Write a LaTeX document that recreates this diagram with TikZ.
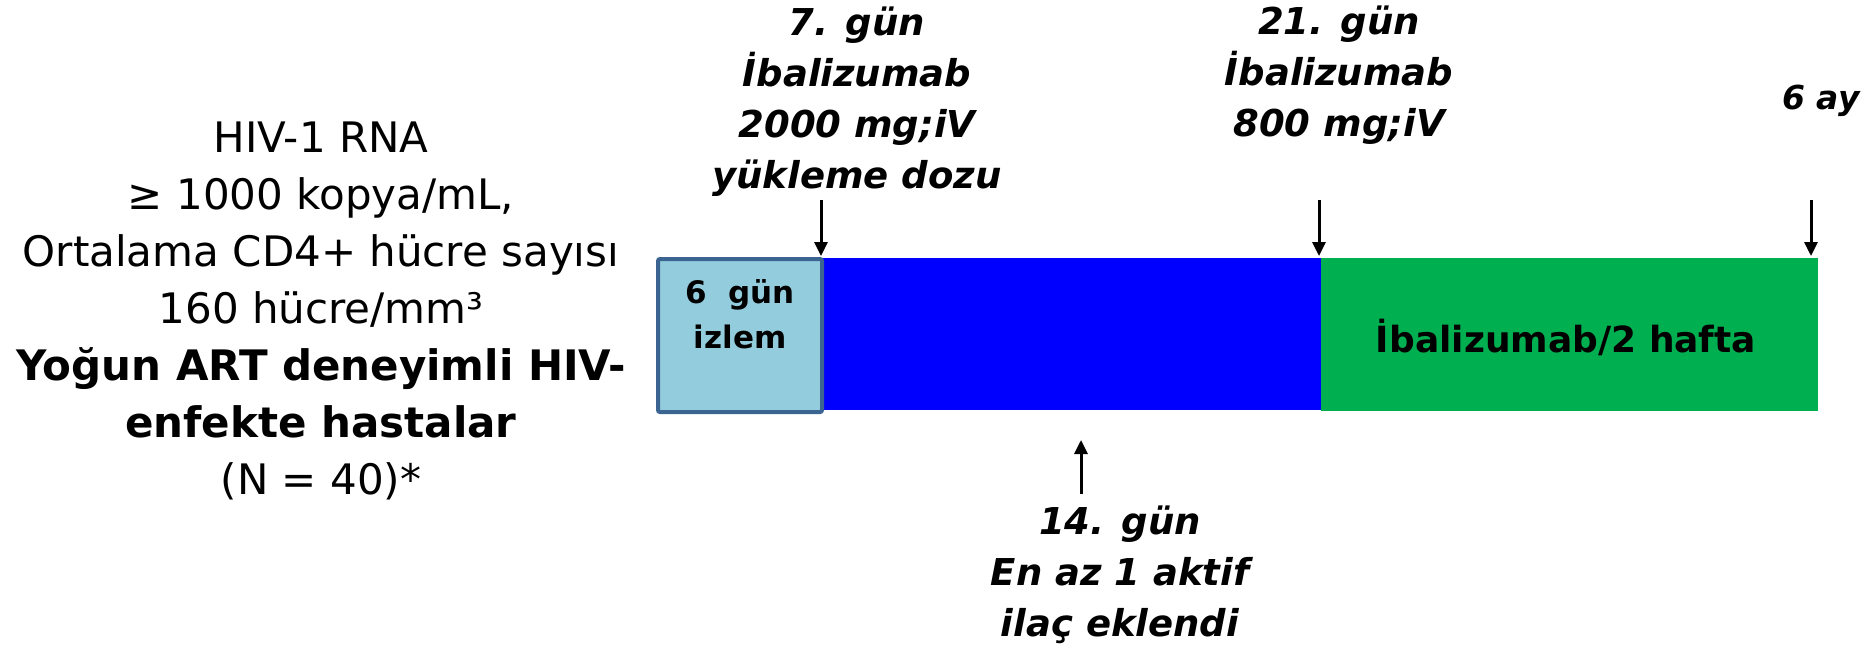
\documentclass[tikz,border=0pt]{standalone}
\usepackage{fontspec}
\setmainfont{DejaVu Sans}
\usetikzlibrary{arrows.meta}
\definecolor{lblue}{HTML}{93CDDD}
\definecolor{lborder}{HTML}{3B6490}
\definecolor{bblue}{HTML}{0000FF}
\definecolor{ggreen}{HTML}{00B050}
\begin{document}
\begin{tikzpicture}[x=1pt,y=-1pt,
  every node/.style={inner sep=0pt,outer sep=0pt},
  lbl/.style={align=center,font=\bfseries\itshape\fontsize{37}{51}\selectfont},
  leftlbl/.style={align=center,font=\fontsize{42}{57}\selectfont},
  bar/.style={anchor=north west,draw=none},
  arr/.style={line width=3pt,-{Triangle[length=14pt,width=13pt]}},
]
\useasboundingbox (0,0) rectangle (1866,651);
% bars
\node[bar,fill=bblue,minimum width=498pt,minimum height=152pt] (treat) at (823,258) {};
\node[bar,fill=ggreen,minimum width=497pt,minimum height=153pt] (maint) at (1321,258) {};
\node[anchor=north west,fill=lblue,draw=lborder,line width=4pt,rounded corners=2pt,
      minimum width=164pt,minimum height=153pt] (obs) at (658,259) {};
\node[align=center,font=\bfseries\fontsize{31}{45}\selectfont] (obstxt) at (740,314) {6~ gün\\izlem};
\node[font=\bfseries\fontsize{36}{45}\selectfont] (mainttxt) at (1566,337) {İbalizumab/2 hafta};
% left text
\node[leftlbl] (crit) at (321,311) {HIV-1 RNA\\≥ 1000 kopya/mL,\\Ortalama CD4+ hücre sayısı\\160 hücre/mm³\\\textbf{Yoğun ART deneyimli HIV-}\\\textbf{enfekte hastalar}\\(N = 40)*};
% top labels
\node[lbl] (d7) at (857,102) {7. gün\\İbalizumab\\2000 mg;iV\\yükleme dozu};
\node[lbl] (d21) at (1339,75) {21. gün\\İbalizumab\\800 mg;iV};
\node[lbl,font=\bfseries\itshape\fontsize{33}{45}\selectfont] (m6) at (1821,101) {6 ay};
\node[lbl] (d14) at (1120,575) {14. gün\\En az 1 aktif\\ilaç eklendi};
% arrow coordinates
\coordinate (a7) at (821,200);
\coordinate (b7) at (821,256);
\coordinate (a21) at (1319,200);
\coordinate (b21) at (1319,256);
\coordinate (a6) at (1811,200);
\coordinate (b6) at (1811,256);
\coordinate (a14) at (1081,494);
\coordinate (b14) at (1081,440);
\draw[arr] (a7) -- (b7);
\draw[arr] (a21) -- (b21);
\draw[arr] (a6) -- (b6);
\draw[arr] (a14) -- (b14);
\end{tikzpicture}
\end{document}
